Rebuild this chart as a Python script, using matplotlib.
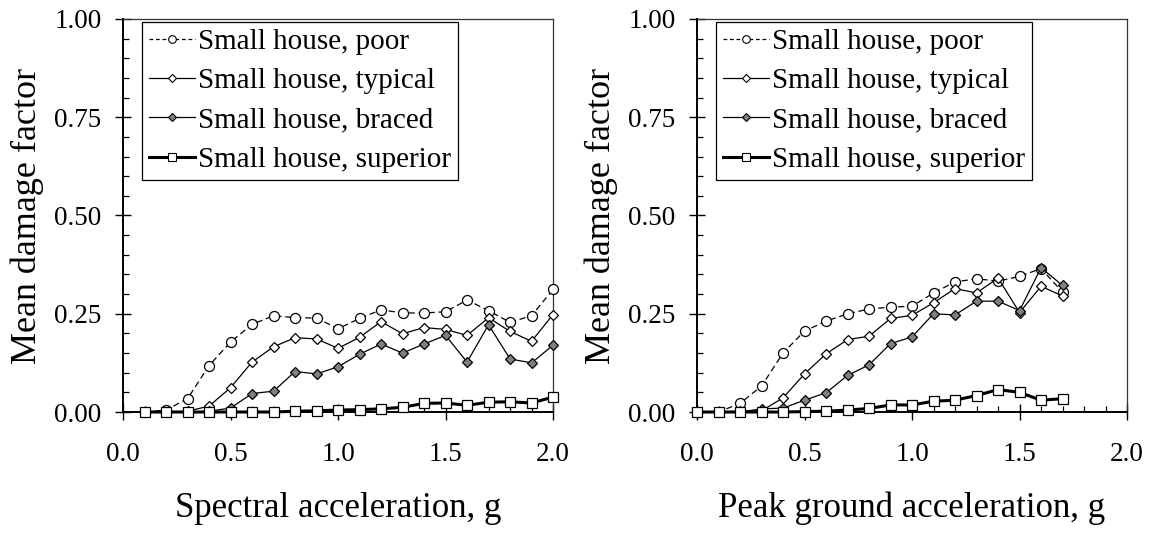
import matplotlib
matplotlib.use("Agg")
import matplotlib.pyplot as plt
from matplotlib.lines import Line2D
from matplotlib.ticker import MultipleLocator, FormatStrFormatter

plt.rcParams['font.family'] = ['Liberation Serif', 'DejaVu Serif']

# ---- data: left panel (spectral acceleration) ----
sa = [0.1, 0.2, 0.3, 0.4, 0.5, 0.6, 0.7, 0.8, 0.9, 1.0,
      1.1, 1.2, 1.3, 1.4, 1.5, 1.6, 1.7, 1.8, 1.9, 2.0]
sa_poor = [0.0, 0.005, 0.034, 0.118, 0.178, 0.223, 0.245, 0.240, 0.239, 0.212,
           0.238, 0.260, 0.252, 0.252, 0.255, 0.285, 0.258, 0.228, 0.245, 0.312]
sa_typical = [0.0, 0.0, 0.002, 0.015, 0.062, 0.127, 0.166, 0.189, 0.186, 0.162,
              0.190, 0.230, 0.199, 0.215, 0.210, 0.195, 0.240, 0.205, 0.180, 0.248]
sa_braced = [0.0, 0.0, 0.0, 0.002, 0.010, 0.047, 0.053, 0.103, 0.097, 0.115,
             0.147, 0.173, 0.150, 0.173, 0.195, 0.127, 0.222, 0.135, 0.125, 0.170]
sa_superior = [0.0, 0.0, 0.0, 0.0, 0.0, 0.0, 0.0, 0.002, 0.003, 0.005,
               0.006, 0.008, 0.012, 0.022, 0.023, 0.017, 0.025, 0.026, 0.023, 0.038]

# ---- data: right panel (peak ground acceleration) ----
pga = [0.0, 0.1, 0.2, 0.3, 0.4, 0.5, 0.6, 0.7, 0.8, 0.9,
       1.0, 1.1, 1.2, 1.3, 1.4, 1.5, 1.6, 1.7]
pga_poor = [0.0, 0.0, 0.022, 0.066, 0.150, 0.206, 0.231, 0.250, 0.262, 0.267,
            0.269, 0.303, 0.331, 0.339, 0.333, 0.345, 0.365, 0.305]
pga_typical = [0.0, 0.0, 0.002, 0.003, 0.036, 0.097, 0.148, 0.184, 0.193, 0.238,
               0.246, 0.278, 0.314, 0.303, 0.341, 0.253, 0.320, 0.295]
pga_braced = [0.0, 0.0, 0.0, 0.008, 0.010, 0.030, 0.049, 0.093, 0.120, 0.174,
              0.191, 0.250, 0.247, 0.282, 0.282, 0.258, 0.367, 0.322]
pga_superior = [0.0, 0.0, 0.0, 0.0, 0.0, 0.001, 0.002, 0.005, 0.009, 0.018,
                0.018, 0.0275, 0.030, 0.042, 0.057, 0.050, 0.030, 0.034]

labels = ["Small house, poor", "Small house, typical",
          "Small house, braced", "Small house, superior"]
xlabels = ["Spectral acceleration, g", "Peak ground acceleration, g"]
ylabel = "Mean damage factor"

styles = [
    dict(ls=(0, (5, 3)), lw=0.9, marker='o', mfc='white', mec='black', ms=7.2, color='black'),
    dict(ls='-', lw=0.9, marker='D', mfc='white', mec='black', ms=5.0, color='black'),
    dict(ls='-', lw=0.9, marker='D', mfc='#808080', mec='black', ms=5.0, color='black'),
    dict(ls='-', lw=2.2, marker='s', mfc='white', mec='black', ms=7.2, color='black'),
]
legend_ms = [5.5, 3.8, 3.8, 5.5]

fig = plt.figure(figsize=(11.51, 5.33), dpi=100)
ax1 = fig.add_axes([0.1069, 0.227, 0.3736, 0.7374])
ax2 = fig.add_axes([0.6056, 0.227, 0.3736, 0.7374])

panels = [
    (ax1, sa, [sa_poor, sa_typical, sa_braced, sa_superior], xlabels[0]),
    (ax2, pga, [pga_poor, pga_typical, pga_braced, pga_superior], xlabels[1]),
]

for ax, xs, series, xl in panels:
    for ys, st, lab in zip(series, styles, labels):
        ax.plot(xs, ys, label=lab, mew=0.9, clip_on=False, zorder=3, **st)
    ax.set_xlim(0, 2.0)
    ax.set_ylim(0, 1.0)
    ax.xaxis.set_major_locator(MultipleLocator(0.5))
    ax.xaxis.set_minor_locator(MultipleLocator(0.1))
    ax.yaxis.set_major_locator(MultipleLocator(0.25))
    ax.yaxis.set_minor_locator(MultipleLocator(0.05))
    ax.xaxis.set_major_formatter(FormatStrFormatter('%.1f'))
    ax.yaxis.set_major_formatter(FormatStrFormatter('%.2f'))
    ax.tick_params(which='major', direction='inout', length=11, width=1.0,
                   labelsize=19.5, pad=10)
    ax.tick_params(which='minor', direction='in', length=4.5, width=0.9)
    ax.tick_params(axis='x', which='major', pad=16)
    for side in ['left', 'bottom']:
        ax.spines[side].set_linewidth(1.4)
    for side in ['top', 'right']:
        ax.spines[side].set_linewidth(0.9)
        ax.spines[side].set_color('#333333')
    ax.set_xlabel(xl, fontsize=25, labelpad=18)
    ax.set_ylabel(ylabel, fontsize=26, labelpad=7)

    handles = []
    for st, lab, lms in zip(styles, labels, legend_ms):
        h = dict(st)
        h['ms'] = lms
        if h['ls'] != '-':
            h['ls'] = (0, (3, 2.2))
        handles.append(Line2D([], [], mew=0.8, **h))
    leg = ax.legend(handles, labels, loc='upper left', bbox_to_anchor=(0.045, 0.993),
                    fontsize=21, frameon=True, fancybox=False, framealpha=1,
                    edgecolor='black', handlelength=1.55, handletextpad=0.12,
                    labelspacing=0.44, borderpad=0.24, borderaxespad=0)
    leg.get_frame().set_linewidth(0.9)

fig.savefig('out.png', dpi=100)
